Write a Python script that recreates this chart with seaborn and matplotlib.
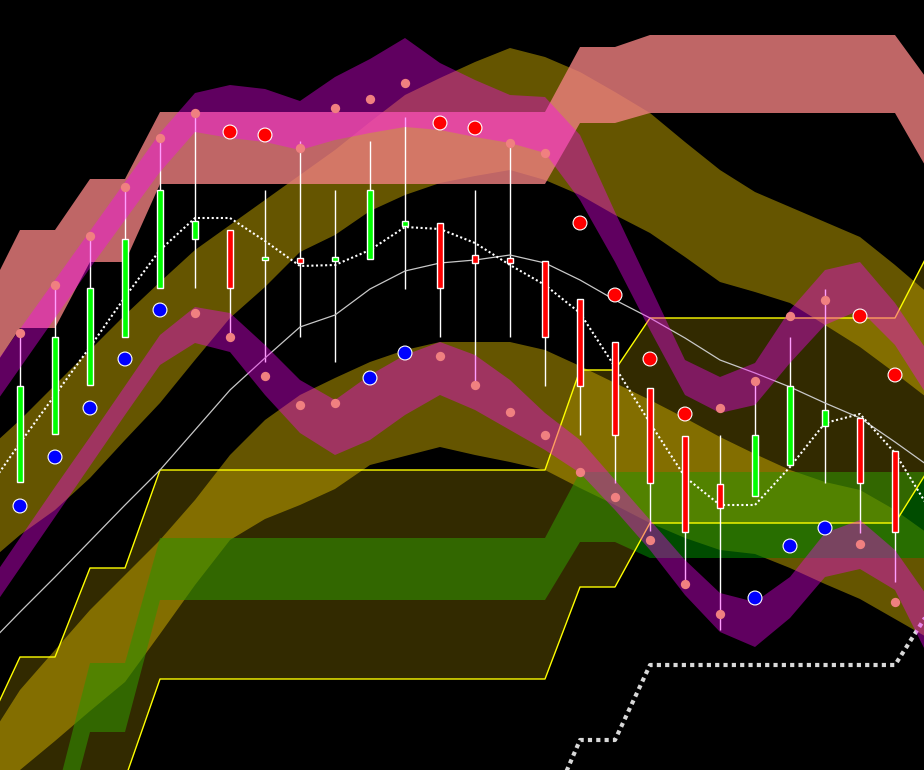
import numpy as np
import pandas as pd
import matplotlib
matplotlib.use("Agg")
import matplotlib.pyplot as plt
import seaborn as sns

# candle data (26 sessions)
opens = [128.8, 133.6, 138.5, 143.3, 148.2, 153.1, 154.0, 151.0, 151.2, 150.9, 151.1, 154.4, 154.7,
         151.5, 151.2, 150.9, 147.1, 142.8, 138.2, 133.4, 128.6, 127.4, 130.5, 134.4, 135.2, 131.9]
highs = [143.7, 148.5, 153.4, 158.3, 163.2, 165.7, 154.0, 158.0, 162.9, 158.0, 162.9, 165.3, 154.7,
         158.0, 162.3, 150.9, 147.1, 142.8, 138.2, 133.4, 133.5, 138.5, 143.3, 148.1, 135.2, 131.9]
lows = [128.8, 133.6, 138.5, 143.3, 148.2, 148.2, 143.3, 140.8, 143.3, 140.8, 151.1, 148.1, 143.3,
        138.5, 143.3, 138.4, 133.5, 128.7, 123.9, 118.7, 114.0, 127.4, 130.5, 128.7, 123.7, 118.8]
closes = [138.4, 143.3, 148.2, 153.1, 158.0, 154.9, 148.2, 151.3, 150.7, 151.3, 158.0, 154.9, 148.2,
          150.7, 150.7, 143.3, 138.4, 133.5, 128.7, 123.8, 126.2, 133.5, 138.4, 136.0, 128.7, 123.8]

# markers above / below each candle (0 = neutral, 1 = sell, -1 = buy)
upper_dots = [143.7, 148.5, 153.4, 158.3, 163.2, 165.7, 163.8, 163.5, 162.2, 166.2, 167.1, 168.7, 164.7,
              164.2, 162.7, 161.7, 154.7, 147.5, 141.1, 135.6, 136.2, 138.9, 145.4, 147.0, 145.4, 139.5]
upper_sig = [0, 0, 0, 0, 0, 0, 1, 1, 0, 0, 0, 0, 1, 1, 0, 0, 1, 1, 1, 1, 0, 0, 0, 0, 1, 1]
lower_dots = [126.4, 131.3, 136.2, 141.1, 146.0, 145.7, 143.3, 139.4, 136.5, 136.7, 139.2, 141.7, 141.4,
              138.5, 135.8, 133.5, 129.8, 127.3, 123.0, 118.6, 115.6, 117.2, 122.4, 124.2, 122.6, 116.8]
lower_sig = [-1, -1, -1, -1, -1, 0, 0, 0, 0, 0, -1, -1, 0, 0, 0, 0, 0, 0, 0, 0, 0, -1, -1, -1, 0, 0]

# overlay series, one point before the first candle to one after the last
ma = [112.2, 115.8, 119.3, 122.9, 126.5, 130.0, 134.0, 138.0, 141.2, 144.3, 145.5, 148.1, 149.9, 150.7,
      151.0, 151.5, 150.7, 149.0, 147.0, 145.2, 143.2, 141.0, 139.7, 138.3, 136.7, 135.2, 132.8, 130.3]
fast_line = [127.7, 132.7, 137.5, 142.3, 147.3, 152.0, 155.2, 155.2, 152.9, 150.4, 150.5, 152.0, 154.3, 154.1,
             152.7, 150.5, 148.5, 145.7, 140.3, 134.7, 129.3, 126.5, 126.5, 130.3, 134.7, 135.6, 131.7, 126.0]
floor_line = [94.9, 94.9, 103.0, 103.0, 110.5, 110.5, 110.5, 110.5, 110.5, 110.5, 110.5, 110.5, 116.0]

coral_hi = [147.0, 154.0, 154.0, 159.1, 159.1] + [165.8] * 12 + [172.3, 172.3] + [173.5] * 8 + [168.7]
coral_lo = [139.0, 144.2, 144.2, 150.8, 150.8] + [158.6] * 12 + [164.7, 164.7] + [165.7] * 8 + [159.6]
cloud_hi = [103.8, 111.3, 111.3, 120.2, 120.2] + [130.0] * 12 + [140.0, 140.0] + [145.2] * 8 + [152.0]
cloud_lo = [91.0, 91.0, 91.0, 99.1, 99.1] + [109.1] * 12 + [118.3, 118.3] + [124.7] * 8 + [130.3]
green_hi = [92.0, 97.0, 97.0, 110.7, 110.7] + [123.2] * 12 + [129.8] * 11
green_lo = [87.0, 90.5, 90.5, 103.8, 103.8] + [117.0] * 12 + [122.8, 122.8] + [121.2] * 9

olive1_hi = [131.8, 135.0, 138.5, 142.0, 145.5, 148.8, 152.0, 154.5, 157.0, 159.5, 162.0, 164.8, 167.5, 169.2,
             170.8, 172.2, 171.3, 169.8, 167.8, 165.7, 162.8, 160.0, 157.8, 156.3, 154.8, 153.3, 150.5, 147.5]
olive1_lo = [120.5, 123.5, 126.0, 129.2, 133.0, 136.7, 141.0, 145.2, 148.3, 151.8, 153.5, 155.9, 157.5, 158.7,
             159.4, 160.0, 159.0, 157.5, 155.5, 153.7, 151.3, 148.8, 147.8, 146.7, 144.5, 142.3, 139.7, 137.0]
olive2_hi = [102.5, 108.0, 112.0, 116.0, 119.5, 123.0, 127.0, 131.5, 135.0, 137.5, 139.2, 140.8, 142.0, 142.8,
             142.8, 142.8, 142.0, 140.4, 138.7, 137.0, 135.2, 133.3, 131.6, 130.0, 128.8, 128.0, 126.0, 123.5]
olive2_lo = [97.0, 100.0, 102.9, 105.9, 108.8, 113.6, 118.5, 123.0, 125.1, 126.5, 128.1, 130.5, 131.4, 132.3,
             131.5, 130.8, 130.0, 128.2, 126.5, 124.7, 123.2, 122.0, 121.6, 120.2, 118.6, 117.1, 115.1, 113.1]

purple1_hi = [139.2, 144.1, 149.0, 153.9, 158.8, 163.7, 167.7, 168.5, 168.1, 166.9, 169.3, 171.1, 173.2, 170.7,
              169.0, 167.5, 167.3, 163.5, 155.8, 148.4, 141.0, 139.3, 140.7, 146.0, 150.0, 150.8, 146.7, 141.5]
purple1_lo = [135.2, 140.2, 145.2, 150.2, 155.0, 159.8, 163.8, 163.2, 162.8, 162.0, 163.0, 163.7, 164.3, 164.0,
              163.3, 162.7, 161.7, 157.0, 150.8, 144.0, 137.5, 135.7, 136.5, 140.7, 144.5, 146.0, 142.5, 137.0]
purple2_hi = [118.1, 123.2, 128.3, 133.3, 138.4, 143.5, 146.3, 145.7, 142.5, 139.0, 137.0, 139.5, 141.5, 142.8,
              141.5, 139.0, 135.7, 133.0, 129.0, 125.0, 121.0, 117.7, 116.8, 119.3, 123.7, 125.0, 122.0, 117.0]
purple2_lo = [115.1, 120.2, 125.3, 130.4, 135.5, 140.5, 142.7, 141.8, 137.5, 133.7, 131.5, 133.0, 135.5, 137.5,
              136.0, 134.0, 132.0, 129.7, 126.0, 122.0, 117.5, 113.8, 112.3, 115.2, 119.3, 120.1, 118.0, 111.0]

idx = np.arange(len(opens))
band_idx = np.arange(-1, len(opens) + 1)
floor_idx = np.arange(14, 27)

sns.set_theme(style="dark")
plt.rcParams.update({"axes.facecolor": "black", "figure.facecolor": "black"})

fig = plt.figure(figsize=(9.24, 7.7), dpi=100)
ax = fig.add_axes([0, 0, 1, 1])
ax.set_facecolor("black")

# olive bands, then the green band, then the cloud on top of both
ax.fill_between(band_idx, olive1_lo, olive1_hi, color="gold", alpha=0.4, lw=0, zorder=1)
ax.fill_between(band_idx, olive2_lo, olive2_hi, color="gold", alpha=0.4, lw=0, zorder=1)
ax.fill_between(band_idx, green_lo, green_hi, color="green", alpha=0.6, lw=0, zorder=1.5)
ax.fill_between(band_idx, cloud_lo, cloud_hi, color="gold", alpha=0.2, lw=0, zorder=2)
sns.lineplot(x=band_idx, y=cloud_hi, color="yellow", lw=1.0, ax=ax, zorder=2.5)
sns.lineplot(x=band_idx, y=cloud_lo, color="yellow", lw=1.0, ax=ax, zorder=2.5)
ax.fill_between(band_idx, coral_lo, coral_hi, color="lightcoral", alpha=0.8, lw=0, zorder=3)

# wicks
ax.vlines(idx, lows, highs, color="white", lw=1.0, zorder=4)

# lines
sns.lineplot(x=band_idx, y=ma, color="#c8c8c8", lw=0.9, ax=ax, zorder=4.2)
ax.plot(band_idx, fast_line, color="white", lw=1.5, linestyle=(0, (1, 1.2)), zorder=4.3)
ax.plot(floor_idx, floor_line, color="#d8d8d8", lw=3.0, linestyle=(0, (1, 1)), zorder=4.3)

# purple bands
ax.fill_between(band_idx, purple1_lo, purple1_hi, color="magenta", alpha=0.38, lw=0, zorder=5)
ax.fill_between(band_idx, purple2_lo, purple2_hi, color="magenta", alpha=0.38, lw=0, zorder=5)

# candle bodies
body_lo = np.minimum(opens, closes)
body_h = np.maximum(np.abs(np.array(closes) - np.array(opens)), 0.35)
body_col = ["#00ff00" if c >= o else "#ff0000" for o, c in zip(opens, closes)]
ax.bar(idx, body_h, bottom=body_lo, width=0.17, color=body_col, edgecolor="white", linewidth=1.0, zorder=6)

# dots
dots = pd.DataFrame({
    "idx": np.concatenate([idx, idx]),
    "price": upper_dots + lower_dots,
    "sig": upper_sig + lower_sig,
})
neutral = dots[dots["sig"] == 0]
signal = dots[dots["sig"] != 0]
sns.scatterplot(data=neutral, x="idx", y="price", color="lightcoral", s=45, linewidth=0, ax=ax, zorder=7)
sns.scatterplot(data=signal, x="idx", y="price", hue="sig", palette={1: "red", -1: "blue"},
                s=100, edgecolor="white", linewidth=0.8, ax=ax, zorder=7, legend=False)

ax.set_xlim(-20 / 35, 904 / 35)
ax.set_ylim(100, 177)
ax.axis("off")

fig.savefig("out.png", dpi=100, facecolor="black")
